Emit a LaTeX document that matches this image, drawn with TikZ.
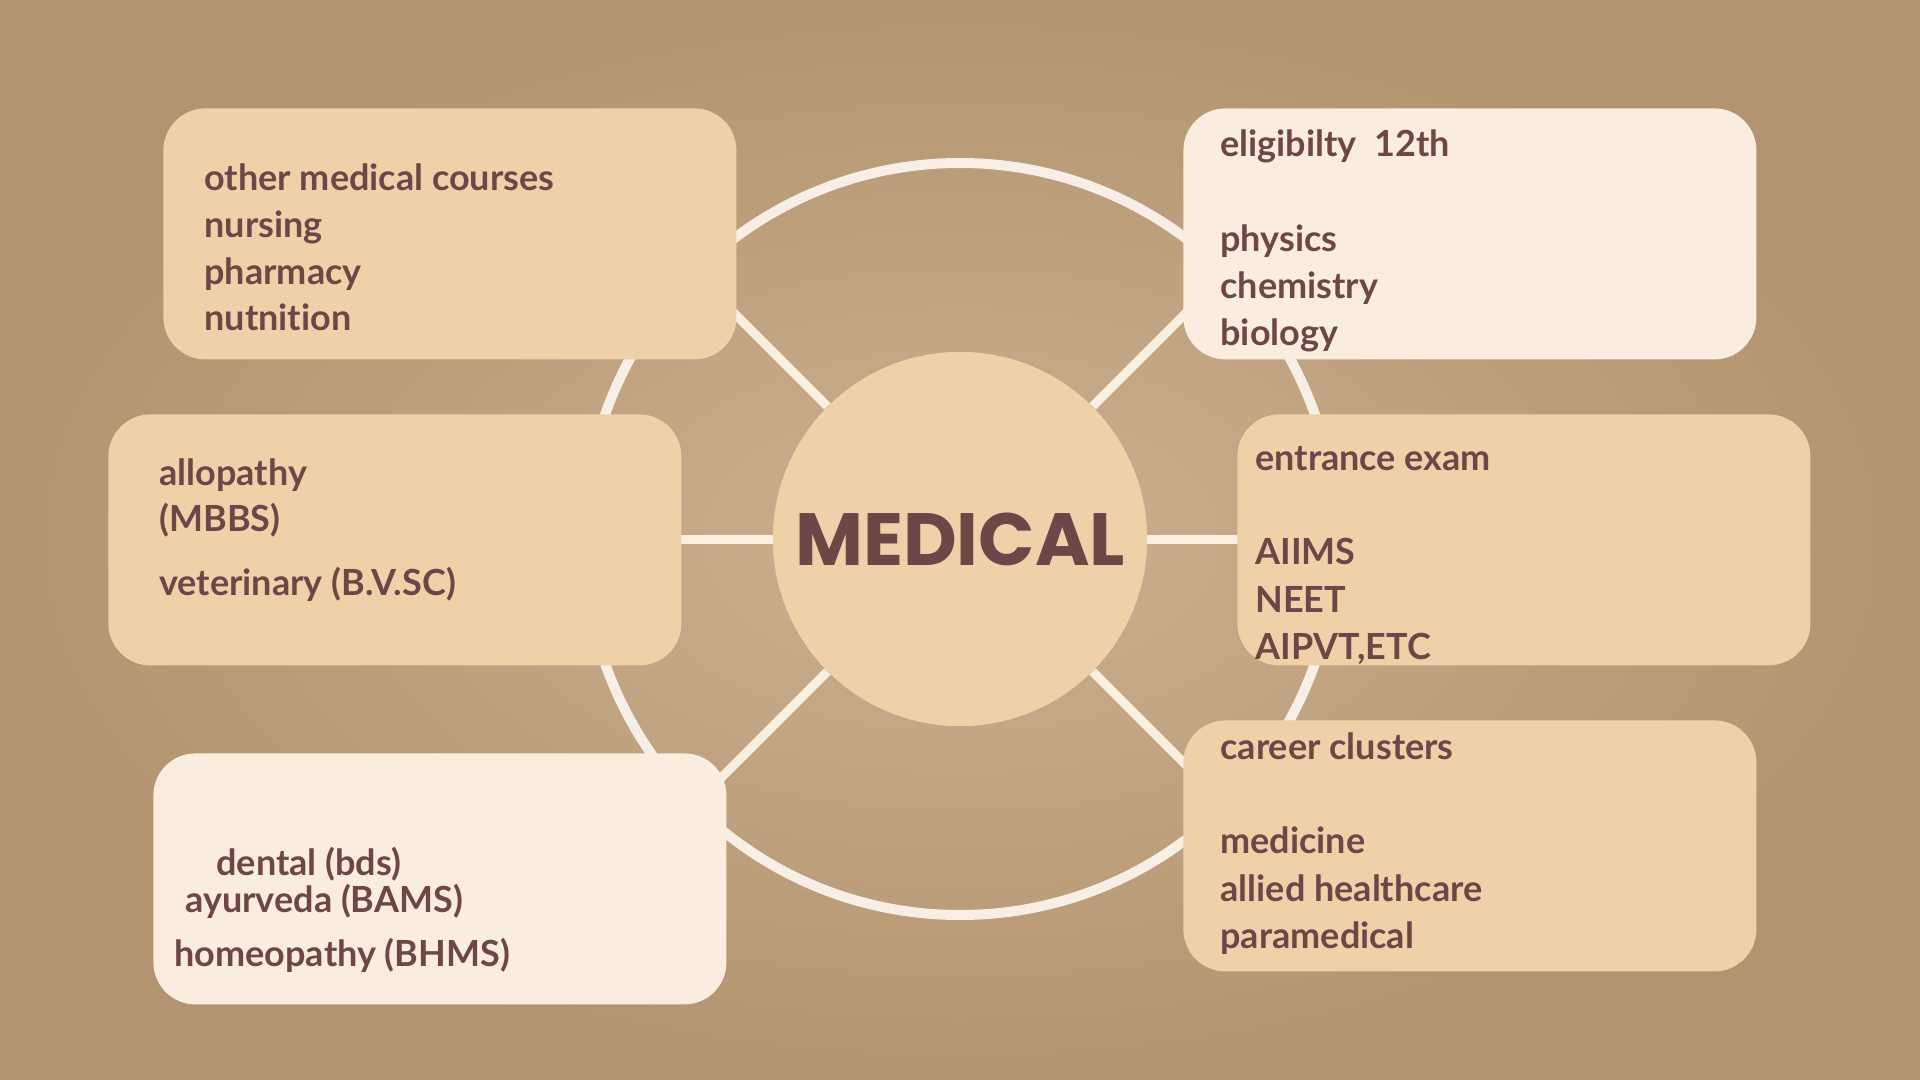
\documentclass[tikz,border=0pt]{standalone}
\usepackage{fontspec}
\setmainfont{Lato}[Ligatures=NoCommon]
\newfontfamily\titlefont{Poppins}
\definecolor{bgin}{HTML}{CCB190}
\definecolor{bgout}{HTML}{B49470}
\definecolor{darkbox}{HTML}{F0D0A9}
\definecolor{lightbox}{HTML}{FAEDDF}
\definecolor{txtc}{HTML}{6E4647}
\definecolor{ringc}{HTML}{F7EEE6}
\definecolor{spokec}{HTML}{FAEEE0}
\tikzset{
  boxd/.style={rectangle, rounded corners=21pt, fill=darkbox, draw=none, anchor=north west, minimum width=286.5pt, minimum height=125.5pt, inner sep=0pt},
  boxl/.style={boxd, fill=lightbox},
  txt/.style={anchor=west, inner sep=0pt, text=txtc, font=\fontsize{18}{21}\selectfont\bfseries, text height=0.52em, text depth=0pt, yshift=-3.5pt},
  spoke/.style={draw=spokec, line width=4.5pt},
  ringline/.style={draw=ringc, line width=5pt}
}
\begin{document}
\begin{tikzpicture}[x=0.5pt, y=-0.5pt]
\useasboundingbox (0,0) rectangle (1920,1080);
\shade[inner color=bgin, outer color=bgout] (0,0) rectangle (1920,1080);
% centre
\node[circle, fill=darkbox, minimum size=187pt, inner sep=0pt] (med) at (960,539) {};
\draw[ringline] (med.center) circle (188pt);
\coordinate (sE) at (1336,539);
\coordinate (sW) at (584,539);
\coordinate (sNE) at (1226,273);
\coordinate (sNW) at (694,273);
\coordinate (sSE) at (1226,805);
\coordinate (sSW) at (694,805);
\foreach \p in {sE,sW,sNE,sNW,sSE,sSW} \draw[spoke] (med) -- (\p);
\node[circle, fill=darkbox, minimum size=187pt, inner sep=0pt] (medc) at (960,539) {};
\node[text=txtc, font=\titlefont\fontsize{37}{40}\selectfont\bfseries, inner sep=0pt] (title) at (med.center) {MEDICAL};
% boxes
\node[boxd] (btl) at (163,108) {};
\node[boxl] (btr) at (1183,108) {};
\node[boxd] (bml) at (108,414) {};
\node[boxd] (bmr) at (1237,414) {};
\node[boxl] (bbl) at (153,753) {};
\node[boxd] (bbr) at (1183,720) {};
% texts top left
\node[txt] (tl1) at (204,178) {other medical courses};
\node[txt] (tl2) at (204,225) {nursing};
\node[txt] (tl3) at (204,272) {pharmacy};
\node[txt] (tl4) at (204,318) {nutnition};
% top right
\node[txt] (tr1) at (1220,144) {eligibilty\ \ 12th};
\node[txt] (tr2) at (1220,239) {physics};
\node[txt] (tr3) at (1220,286) {chemistry};
\node[txt] (tr4) at (1220,333) {biology};
% middle left
\node[txt] (ml1) at (159,473) {allopathy};
\node[txt] (ml2) at (159,519) {(MBBS)};
\node[txt] (ml3) at (159,583) {veterinary (B.V.SC)};
% middle right
\node[txt] (mr1) at (1255,458) {entrance exam};
\node[txt] (mr2) at (1255,552) {AIIMS};
\node[txt] (mr3) at (1255,600) {NEET};
\node[txt] (mr4) at (1255,647) {AIPVT,ETC};
% bottom left
\node[txt] (bl1) at (216,863) {dental (bds)};
\node[txt] (bl2) at (185,900) {ayurveda (BAMS)};
\node[txt] (bl3) at (174,954) {homeopathy (BHMS)};
% bottom right
\node[txt] (br1) at (1220,747) {career clusters};
\node[txt] (br2) at (1220,841) {medicine};
\node[txt] (br3) at (1220,889) {allied healthcare};
\node[txt] (br4) at (1220,936) {paramedical};
\end{tikzpicture}
\end{document}
